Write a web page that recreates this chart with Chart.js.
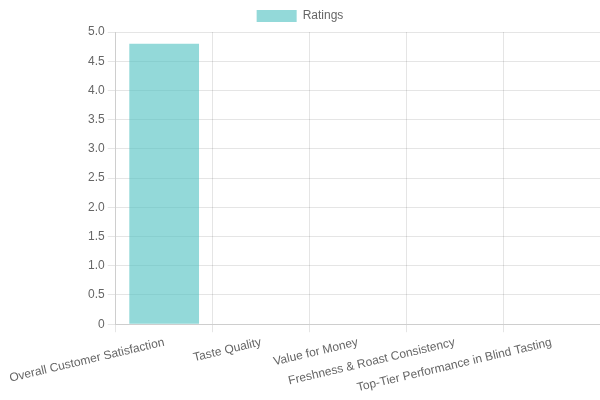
<!DOCTYPE html>
<html lang="en">
<head>
    <meta charset="UTF-8">
    <title>Ratings</title>
    <style>
        html, body { margin: 0; padding: 0; background: #fff; }
        #chart-container { width: 600px; height: 400px; }
    </style>
</head>
<body>
    <div id="chart-container">
        <canvas id="ratingsChart"></canvas>
    </div>

    <script src="https://cdn.jsdelivr.net/npm/chart.js@4"></script>
    <script>
        // categories and values
        const categories = [
            'Overall Customer Satisfaction',
            'Taste Quality',
            'Value for Money',
            'Freshness & Roast Consistency',
            'Top-Tier Performance in Blind Tasting'
        ];
        const ratings = [4.8, 0, 0, 0, 0];

        const ctx = document.getElementById('ratingsChart').getContext('2d');

        const chart = new Chart(ctx, {
            type: 'bar',
            data: {
                labels: categories,
                datasets: [{
                    label: 'Ratings',
                    data: ratings,
                    backgroundColor: 'rgba(75, 192, 192, 0.6)',
                    borderWidth: 0
                }]
            },
            options: {
                responsive: true,
                maintainAspectRatio: false,
                animation: false,
                layout: {
                    padding: { bottom: 2 }
                },
                scales: {
                    x: {
                        // push the plot a little to the right, like the original
                        afterFit: function (scale) {
                            scale.paddingLeft += 4;
                        }
                    },
                    y: {
                        beginAtZero: true,
                        max: 5
                    }
                }
            }
        });
    </script>
</body>
</html>
